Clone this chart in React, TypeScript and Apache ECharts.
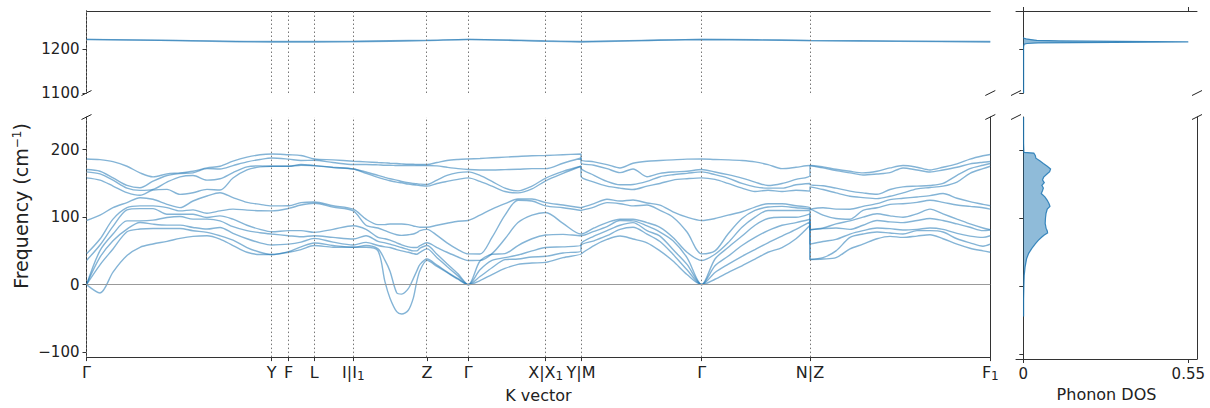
import React, { useEffect, useRef } from 'react';
import * as echarts from 'echarts';

// ---- k-path (path length, arbitrary units) ----
const kLabelPos = [0, 1.852, 2.022, 2.278, 2.668, 3.405, 3.818, 4.592, 4.945, 6.152, 7.235, 9.038];
const kLabelText = ['Γ', 'Y', 'F', 'L', 'I|I{s|1}', 'Z', 'Γ', 'X|X{s|1}', 'Y|M', 'Γ', 'N|Z', 'F{s|1}'];

// ---- low-frequency bands, columns of 11 frequencies (cm^-1) at each k ----
const kGammaY = [0, 0.135, 0.265, 0.405, 0.535, 0.665, 0.805, 0.935, 1.065, 1.205, 1.335, 1.465, 1.605, 1.735, 1.852];
const fGammaY = [
  [186.3, 170.6, 167.2, 158.3, 95.1, 45.6, 35.8, 0, 0, 0, 0],
  [185.3, 168.1, 164.2, 154.9, 102.9, 67.6, 58.8, 50.5, 40.7, 29.4, -12.3],
  [182.4, 158.3, 154.9, 146.1, 114.2, 97.1, 86.3, 75, 65.2, 52.9, 18.6],
  [175.5, 147.1, 143.1, 136.3, 121.6, 114.2, 110.8, 94.6, 82.4, 78.4, 43.1],
  [165.7, 143.6, 139.7, 132.4, 128.9, 116.7, 112.7, 94.6, 92.2, 82.4, 55.4],
  [159.8, 153.4, 141.2, 140.2, 126.5, 116.7, 112.7, 95.6, 89.7, 83.3, 60.3],
  [164.2, 161.8, 152, 141.2, 119.1, 114.2, 104.4, 99.5, 88.2, 83.3, 64.2],
  [165.7, 164.7, 159.8, 133.8, 114.2, 109.3, 104.4, 101, 88.2, 83.3, 68.6],
  [168.1, 165.7, 161.8, 136.3, 124, 110.8, 104.4, 97.1, 84.8, 79.9, 71.6],
  [173, 172, 154.9, 141.2, 131.4, 105.9, 99.5, 97.1, 82.4, 77.5, 72.5],
  [175.5, 171.5, 156.9, 140.2, 136.3, 109.3, 102, 94.6, 84.8, 72.5, 67.6],
  [183, 176.5, 166, 158, 129, 112, 97, 86, 76, 66, 58],
  [189, 182, 174.5, 170, 122, 110.5, 88, 80, 68, 55, 48],
  [192.5, 185.5, 176, 174.5, 119, 109.5, 82, 77, 62, 48, 44.6],
  [193.6, 187.7, 175.5, 175.5, 116.7, 109.3, 78.4, 75, 58.8, 44.6, 44.6],
];
const kYI = [2.022, 2.145, 2.278, 2.465, 2.668];
const fYI = [
  [192.5, 186, 175.5, 175.5, 117, 113, 80, 72.5, 60, 49, 48],
  [191.5, 184, 178, 177, 121.5, 118, 80, 71, 63, 56, 52],
  [186.3, 184.3, 176.5, 176.5, 122.5, 120.6, 77.5, 72.5, 68.6, 61.8, 58],
  [185, 181, 174, 173.5, 117, 115, 82, 70, 63, 58, 55.5],
  [183, 178, 171.5, 171.5, 111.8, 109.3, 87.3, 67.6, 58.8, 55.4, 55.4],
];
const kIZ = [2.795, 2.915, 2.985, 3.035, 3.102, 3.152, 3.218, 3.268, 3.302, 3.335, 3.405];
const fIZ = [
  [182, 178, 167, 165, 97, 88, 82, 72.5, 62.7, 58, 55.4],
  [181, 177.5, 162, 159, 89, 84, 70, 64, 58, 53, 50],
  [180.5, 177, 159, 156, 89, 80, 68, 62, 56, 36, 4],
  [180, 177, 157, 154, 90, 77, 66, 60, 55, 20, -20],
  [179.5, 176.5, 155, 152, 90, 74, 62, 57, 52, -12, -40],
  [179, 176.5, 153, 151, 90, 73, 59, 55, 50, -14, -43.6],
  [178.5, 176.5, 151, 149, 89, 74, 56, 52, 48, -6, -38],
  [178.5, 176.5, 150, 148, 87, 75, 55, 50, 46, 9, -20],
  [178, 176.5, 149.5, 147.5, 86, 77, 55, 50, 45, 20, 4],
  [178, 176.5, 149, 147, 85, 80, 58, 54, 48, 30, 21],
  [178, 176.5, 148.5, 146, 85, 82, 62, 58, 53, 38, 36],
];
const kZGamma = [3.505, 3.605, 3.715, 3.818];
const fZGamma = [
  [181, 176, 155, 150, 88, 73, 55, 45, 40, 29, 27],
  [184, 174, 162, 153, 91, 62, 48, 31, 27, 19, 18],
  [185.5, 172, 166, 156, 94, 52, 41, 16, 13, 9, 8],
  [186.3, 170.6, 167.2, 158.3, 95.1, 45.6, 35.8, 0, 0, 0, 0],
];
const kGammaX = [3.935, 4.055, 4.185, 4.315, 4.455, 4.592];
const fGammaX = [
  [187, 170, 162, 153, 103, 45.5, 36, 35, 22, 12, 6],
  [188, 170, 153, 146, 112, 70, 46, 45, 36, 25, 15],
  [189, 170.5, 143, 138, 120, 103, 68, 46, 40, 37, 24],
  [190, 171, 139, 136, 127, 125, 92, 58, 44, 38, 30],
  [191, 172, 146, 142, 127, 124, 103, 68, 50, 41, 32],
  [191.5, 172, 158, 154, 121.6, 116.7, 107, 73.5, 55, 42, 33],
];
const kXY = [4.765, 4.945];
const fXY = [
  [192.6, 180, 168, 165, 118, 114, 90.7, 74.5, 56, 47, 40],
  [193.6, 187.7, 175.5, 175.5, 114, 110, 75, 72.5, 58, 50, 45.6],
];
const kMGamma = [4.945, 5.075, 5.205, 5.335, 5.465, 5.605, 5.735, 5.865, 6.005, 6.152];
const fMGamma = [
  [185.3, 180.4, 173, 160.8, 115, 111, 75, 72.5, 60, 58, 46],
  [182, 177, 162, 152, 120, 115, 84, 79, 72, 65, 58],
  [178, 172, 153, 146, 126.5, 121.6, 92, 86, 80, 72.5, 67],
  [173, 166, 148, 143, 124, 120, 97, 95, 88, 82, 72],
  [180, 171.5, 148.5, 141, 125.5, 116.7, 97, 94.6, 92, 85, 67.6],
  [183, 160, 153, 146, 121, 118, 92, 87, 80, 75, 62],
  [184, 165, 160, 150, 118, 110, 85, 78, 72, 64, 50],
  [185, 167, 163, 155, 108, 100, 70, 65, 52, 45, 35],
  [186, 168, 165, 157, 100, 78, 48, 40, 30, 22, 15],
  [186.3, 170.6, 167.2, 158.3, 95.1, 45.6, 35.8, 0, 0, 0, 0],
];
const kGammaN = [6.285, 6.415, 6.555, 6.685, 6.815, 6.955, 7.095, 7.235];
const fGammaN = [
  [185.5, 167, 163, 156, 98, 50, 45, 38, 28, 18, 8],
  [185, 163, 158, 150, 103, 75, 62, 55, 42, 30, 18],
  [184, 158, 150, 143, 108, 98, 85, 72, 58, 42, 28],
  [182, 152, 145, 138, 115, 110, 100, 88, 70, 52, 38],
  [178, 147, 143, 140, 120, 115, 110, 98, 80, 62, 48],
  [172, 150, 143, 138, 120, 116, 110, 100, 88, 72, 55],
  [174, 156, 148, 140, 117, 114, 110, 100, 92, 82, 68],
  [176.5, 161.8, 150, 138.7, 114, 112, 110, 105, 97, 93, 88],
];
const kZF = [7.235, 7.365, 7.495, 7.635, 7.765, 7.905, 8.035, 8.165, 8.305, 8.435, 8.565, 8.705, 8.835, 8.965, 9.038];
const fZF = [
  [176.5, 176.5, 148, 145, 112, 112, 81.4, 81.4, 60, 37.3, 37.3],
  [174.5, 173, 146.5, 141, 114, 103, 84, 83, 64, 40, 38],
  [171, 169, 143, 136, 112, 98, 90, 84, 67, 50, 40],
  [168, 165.7, 138.7, 131, 111.8, 97, 94.6, 82, 75, 70, 53],
  [165.7, 162.5, 136, 129, 116, 110, 100, 88, 80, 75, 60],
  [168, 164, 134, 127.5, 120, 114, 105, 95, 84, 78, 68],
  [173, 166, 141, 131, 126, 119, 102, 93, 83, 76.5, 71.6],
  [176.5, 173, 145, 136, 128, 120, 100, 92, 81, 75, 70],
  [174, 170, 146, 142, 130, 122, 105, 95, 82, 80, 72],
  [170, 167, 147, 144, 132, 125, 112, 98, 84, 80, 74],
  [174, 170, 150, 146, 135, 122, 105, 95, 82, 78, 68],
  [179, 174, 162, 152, 128, 118, 97, 90, 76, 68, 60],
  [186, 179, 172, 165, 123, 116, 90, 85, 72, 62, 54],
  [191, 181.5, 177, 172, 119, 114, 84, 80, 70, 57, 50],
  [193, 182.5, 179.5, 175.5, 117, 112, 81.5, 81, 72.5, 60, 48],
];

// ---- high-frequency bands ----
const kHigh = [0, 0.935, 1.852, 2.278, 2.668, 3.405, 3.818, 4.592, 4.945, 4.945, 5.55, 6.152, 6.7, 7.235, 7.235, 8.1, 9.038];
const highBandA = [1222, 1219.5, 1217, 1217, 1217.5, 1220, 1222, 1218.5, 1217, 1217.5, 1219.5, 1222, 1221, 1219.5, 1220, 1218, 1217];
const highBandB = [1221.5, 1219, 1216, 1216, 1216.5, 1219, 1221.5, 1217.5, 1216, 1217, 1219, 1221.5, 1220.5, 1219, 1219.5, 1217.5, 1216];

// ---- phonon DOS ----
const dosLowFreq = [-45, -20, 0, 15, 28, 40, 48, 55, 62, 67, 72, 75, 78, 81, 85, 92, 100, 107, 113, 117, 121, 126, 131, 136, 140, 144, 148, 152, 156, 160, 165, 168, 172, 176, 180, 184, 188, 192, 195.5, 196.5, 210, 248];
const dosLowVal = [0.001, 0.001, 0.002, 0.003, 0.006, 0.011, 0.018, 0.028, 0.04, 0.05, 0.062, 0.07, 0.081, 0.08, 0.076, 0.073, 0.074, 0.076, 0.08, 0.089, 0.086, 0.08, 0.072, 0.06, 0.064, 0.067, 0.062, 0.07, 0.064, 0.068, 0.08, 0.088, 0.091, 0.08, 0.067, 0.055, 0.042, 0.04, 0.035, 0.002, 0.001, 0.001];
const dosHighFreq = [1100, 1205, 1211, 1212.5, 1214, 1215.3, 1216.3, 1217.2, 1218.3, 1219.8, 1221.5, 1223, 1224.3, 1226];
const dosHighVal = [0.001, 0.001, 0.003, 0.012, 0.05, 0.3, 0.55, 0.32, 0.12, 0.045, 0.025, 0.01, 0.003, 0];

const lowTicks = [-100, 0, 100, 200];
const highTicks = [1100, 1200];
const dosTicks = [0, 0.55];

const FONT = 'DejaVu Sans';
const BAND_COLOR = '#1f77b4';

const kAll = [...kGammaY, ...kYI, ...kIZ, ...kZGamma, ...kGammaX, ...kXY, ...kMGamma, ...kGammaN, ...kZF];
const fAll = [...fGammaY, ...fYI, ...fIZ, ...fZGamma, ...fGammaX, ...fXY, ...fMGamma, ...fGammaN, ...fZF];
const nBands = fAll[0].length;

const fmtFreq = (v: number) => (v < 0 ? '\u2212' + Math.abs(v) : String(v));

function dosRender(freqs: number[], vals: number[]) {
  return (params: any, api: any) => {
    if (params.dataIndex !== 0) return null;
    const pts = freqs.map((f, i) => api.coord([vals[i], f]));
    const b0 = api.coord([0, freqs[0]]);
    const b1 = api.coord([0, freqs[freqs.length - 1]]);
    return {
      type: 'group',
      children: [
        { type: 'polygon', shape: { points: [b0, ...pts, b1] }, style: { fill: 'rgba(31,119,180,0.5)', stroke: 'none' } },
        { type: 'polyline', shape: { points: pts }, style: { stroke: 'rgba(31,119,180,0.85)', lineWidth: 1.2, fill: 'none' } },
      ],
    };
  };
}

export default function App() {
  const ref = useRef<HTMLDivElement>(null);
  useEffect(() => {
    if (!ref.current) return;
    const chart = echarts.init(ref.current, null, { renderer: 'svg' });
    const axisLineStyle = { color: '#333', width: 1 };
    const mainL = 86.5, mainR = 1210 - 990.3, dosL = 1016, dosR = 13;
    const topT = 11, topH = 82, lowT = 117, lowH = 242;
    const lowMin = -107.4, lowMax = 248.5, highMin = 1100, highMax = 1286.4;
    const kMin = 0, kMax = 9.038, dMin = -0.0243, dMax = 0.579;

    const hiddenX = (grid: number, min: number, max: number) => ({
      type: 'value', gridIndex: grid, min, max, position: 'bottom',
      axisLine: { show: false }, axisTick: { show: false }, axisLabel: { show: false }, splitLine: { show: false },
    });
    const rightY = (grid: number, min: number, max: number) => ({
      type: 'value', gridIndex: grid, min, max, position: 'right',
      axisLine: { show: true, lineStyle: axisLineStyle }, axisTick: { show: false }, axisLabel: { show: false }, splitLine: { show: false },
    });
    const leftY = (grid: number, min: number, max: number, ticks: number[], labels: boolean) => ({
      type: 'value', gridIndex: grid, min, max, position: 'left',
      axisLine: { show: true, lineStyle: axisLineStyle },
      axisTick: { show: true, length: 4, customValues: ticks, lineStyle: axisLineStyle },
      axisLabel: { show: labels, customValues: ticks, formatter: fmtFreq, fontFamily: FONT, fontSize: 15, color: '#222', margin: 7 },
      splitLine: { show: false },
    });

    const vLines = kLabelPos.map((k) => ({ xAxis: k }));
    const markStyle = { color: '#777', width: 1, type: [1.5, 2.5] };

    const lowSeries = Array.from({ length: nBands }, (_, b) => ({
      type: 'line', xAxisIndex: 2, yAxisIndex: 2,
      data: kAll.map((k, i) => [k, fAll[i][b]]),
      symbol: 'none', showSymbol: false, smooth: 0.3,
      lineStyle: { color: BAND_COLOR, width: 1.4, opacity: 0.55 },
      silent: true, emphasis: { disabled: true }, z: 3,
      markLine: b === 0 ? {
        silent: true, symbol: ['none', 'none'], label: { show: false },
        lineStyle: markStyle,
        data: [...vLines, { yAxis: 0, lineStyle: { color: '#999', width: 1, type: 'solid' } }],
      } : undefined,
    }));

    const highSeries = [highBandA, highBandB].map((band, b) => ({
      type: 'line', xAxisIndex: 0, yAxisIndex: 0,
      data: kHigh.map((k, i) => [k, band[i]]),
      symbol: 'none', showSymbol: false, smooth: 0.3,
      lineStyle: { color: BAND_COLOR, width: 1.4, opacity: 0.55 },
      silent: true, emphasis: { disabled: true }, z: 3,
      markLine: b === 0 ? {
        silent: true, symbol: ['none', 'none'], label: { show: false },
        lineStyle: markStyle, data: vLines,
      } : undefined,
    }));

    const breaks = [[mainL, 93], [mainL, 117], [990.3, 93], [990.3, 117], [dosL, 93], [dosL, 117], [1197, 93], [1197, 117]];

    chart.setOption({
      animation: false,
      backgroundColor: '#fff',
      grid: [
        { left: mainL, right: mainR, top: topT, height: topH },
        { left: mainL, right: mainR, top: lowT, height: lowH },
        { left: dosL, right: dosR, top: topT, height: topH },
        { left: dosL, right: dosR, top: lowT, height: lowH },
      ],
      xAxis: [
        hiddenX(0, kMin, kMax),
        {
          type: 'value', gridIndex: 0, min: kMin, max: kMax, position: 'top',
          axisLine: { show: true, lineStyle: axisLineStyle }, axisTick: { show: false }, axisLabel: { show: false }, splitLine: { show: false },
        },
        {
          type: 'value', gridIndex: 1, min: kMin, max: kMax, position: 'bottom',
          axisLine: { show: true, onZero: false, lineStyle: axisLineStyle },
          axisTick: { show: true, length: 4, customValues: kLabelPos, lineStyle: axisLineStyle },
          axisLabel: {
            show: true, customValues: kLabelPos, fontFamily: FONT, fontSize: 16, color: '#222', margin: 5,
            lineHeight: 20,
            formatter: (v: number) => kLabelText[kLabelPos.indexOf(v)] ?? '',
            rich: {
              s: { fontFamily: FONT, fontSize: 12, color: '#222', lineHeight: 12, verticalAlign: 'bottom' },
            },
          },
          splitLine: { show: false },
          name: 'K vector', nameLocation: 'middle', nameGap: 27,
          nameTextStyle: { fontFamily: FONT, fontSize: 16, color: '#222' },
        },
        hiddenX(2, dMin, dMax),
        {
          type: 'value', gridIndex: 2, min: dMin, max: dMax, position: 'top',
          axisLine: { show: true, lineStyle: axisLineStyle },
          axisTick: { show: true, length: 4, customValues: dosTicks, lineStyle: axisLineStyle },
          axisLabel: { show: false }, splitLine: { show: false },
        },
        {
          type: 'value', gridIndex: 3, min: dMin, max: dMax, position: 'bottom',
          axisLine: { show: true, onZero: false, lineStyle: axisLineStyle },
          axisTick: { show: true, length: 4, customValues: dosTicks, lineStyle: axisLineStyle },
          axisLabel: { show: true, customValues: dosTicks, fontFamily: FONT, fontSize: 15, color: '#222', margin: 7, formatter: (v: number) => String(v) },
          splitLine: { show: false },
          name: 'Phonon DOS', nameLocation: 'middle', nameGap: 27,
          nameTextStyle: { fontFamily: FONT, fontSize: 16, color: '#222' },
        },
      ],
      yAxis: [
        leftY(0, highMin, highMax, highTicks, true),
        rightY(0, highMin, highMax),
        leftY(1, lowMin, lowMax, lowTicks, true),
        rightY(1, lowMin, lowMax),
        leftY(2, highMin, highMax, highTicks, false),
        rightY(2, highMin, highMax),
        leftY(3, lowMin, lowMax, lowTicks, false),
        rightY(3, lowMin, lowMax),
      ],
      graphic: [
        ...breaks.map(([x, y]) => ({
          type: 'line', silent: true,
          shape: { x1: x - 5, y1: y + 2.5, x2: x + 5, y2: y - 2.5 },
          style: { stroke: '#222', lineWidth: 1 },
        })),
        {
          type: 'text', x: 21, y: 206, rotation: Math.PI / 2, silent: true,
          style: {
            text: 'Frequency (cm{sup|\u22121})',
            fontFamily: FONT, fontSize: 19, fill: '#222', align: 'center', verticalAlign: 'middle',
            rich: { sup: { fontFamily: FONT, fontSize: 12, fill: '#222', verticalAlign: 'top', padding: [0, 0, 8, 0] } },
          },
        },
      ],
      series: [
        ...highSeries,
        ...lowSeries,
        {
          type: 'custom', xAxisIndex: 5, yAxisIndex: 6,
          data: dosLowFreq.map((f, i) => [dosLowVal[i], f]),
          encode: { x: 0, y: 1 }, silent: true,
          renderItem: dosRender(dosLowFreq, dosLowVal),
        },
        {
          type: 'custom', xAxisIndex: 4, yAxisIndex: 4,
          data: dosHighFreq.map((f, i) => [dosHighVal[i], f]),
          encode: { x: 0, y: 1 }, silent: true,
          renderItem: dosRender(dosHighFreq, dosHighVal),
        },
      ],
    });
    return () => chart.dispose();
  }, []);
  return <div ref={ref} style={{ position: 'absolute', left: 0, top: 0, width: 1210, height: 408 }} />;
}
